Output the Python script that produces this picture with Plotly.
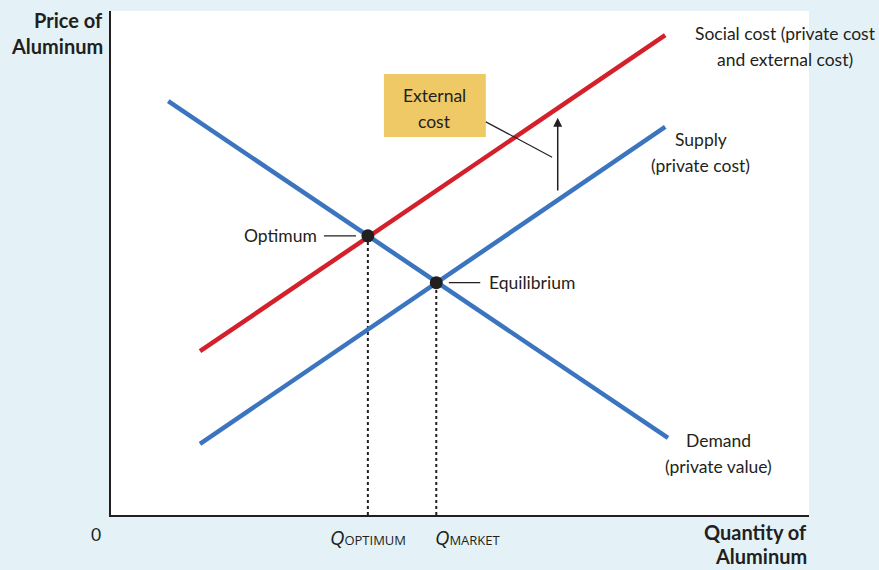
import plotly.graph_objects as go

# curve end points (quantity, price) on a 0-100 scale
demand_q = [8.2, 79.8]
demand_p = [82.1, 15.3]
supply_q = [12.75, 79.4]
supply_p = [14.1, 77.0]
social_q = [12.75, 79.4]
social_p = [32.5, 95.2]

# optimum and equilibrium points
points_q = [36.8, 46.6]
points_p = [55.4, 46.1]

BLUE = '#3b74bf'
RED = '#d3202b'
INK = '#231f20'
FONT = 'Lato'
LINE_GAP = 26


def label(fig, x, y, lines, size=17.5, bold=False, xanchor='center', gap=LINE_GAP, **kw):
    # one annotation per line, to get the wide line spacing of the original
    for i, t in enumerate(lines):
        if bold:
            t = '<b>' + t + '</b>'
        fig.add_annotation(x=x, y=y, text=t, showarrow=False, xanchor=xanchor,
                           yanchor='middle', yshift=-i * gap,
                           font=dict(size=size, color=INK, family=FONT), **kw)


fig = go.Figure()

# dotted drop lines
for q, p in zip(points_q, points_p):
    fig.add_trace(go.Scatter(x=[q, q], y=[0, p], mode='lines',
                             line=dict(color=INK, width=2, dash='dot'),
                             hoverinfo='skip', showlegend=False))

fig.add_trace(go.Scatter(x=demand_q, y=demand_p, mode='lines',
                         line=dict(color=BLUE, width=4.5), showlegend=False))
fig.add_trace(go.Scatter(x=supply_q, y=supply_p, mode='lines',
                         line=dict(color=BLUE, width=4.5), showlegend=False))
fig.add_trace(go.Scatter(x=social_q, y=social_p, mode='lines',
                         line=dict(color=RED, width=4.5), showlegend=False))
fig.add_trace(go.Scatter(x=points_q, y=points_p, mode='markers',
                         marker=dict(color=INK, size=13), showlegend=False))

# external cost box and leader
fig.add_shape(type='rect', x0=39.1, x1=53.7, y0=75.0, y1=87.5,
              fillcolor='#eec965', line=dict(width=0), layer='below')
fig.add_shape(type='line', x0=53.7, y0=78.0, x1=63.2, y1=71.0,
              line=dict(color=INK, width=1.2))
label(fig, 46.4, 83.3, ['External', 'cost'])

# arrow between supply and social cost
fig.add_annotation(x=64.0, y=78.8, ax=64.0, ay=64.1, axref='x', ayref='y',
                   text='', showarrow=True, arrowhead=2, arrowsize=1.2,
                   arrowwidth=1.5, arrowcolor=INK)

# point labels with leaders
fig.add_shape(type='line', x0=30.5, x1=35.1, y0=points_p[0], y1=points_p[0],
              line=dict(color=INK, width=1.2))
label(fig, 29.8, points_p[0], ['Optimum'], xanchor='right')
fig.add_shape(type='line', x0=48.4, x1=52.9, y0=points_p[1], y1=points_p[1],
              line=dict(color=INK, width=1.2))
label(fig, 53.8, points_p[1], ['Equilibrium'], xanchor='left')

# curve labels
label(fig, 96.6, 95.6, ['Social cost (private cost', 'and external cost)'])
label(fig, 84.5, 74.6, ['Supply', '(private cost)'])
label(fig, 87.0, 14.7, ['Demand', '(private value)'])

# axis labels
label(fig, -0.008, 0.982, ['Price of', 'Aluminum'], size=20, bold=True,
      xanchor='right', xref='paper', yref='paper')
label(fig, 1.0, -0.0337, ['Quantity of', 'Aluminum'], size=20, bold=True,
      xanchor='right', xref='paper', yref='paper', gap=24)
label(fig, -0.021, -0.0377, ['0'], xref='paper', yref='paper')
fig.add_annotation(x=points_q[0], yref='paper', y=-0.045, yanchor='middle',
                   text='<i>Q</i><span style="font-size:13px">OPTIMUM</span>',
                   showarrow=False, font=dict(size=20, color=INK, family='Open Sans'))
fig.add_annotation(x=points_q[1], yref='paper', y=-0.045, yanchor='middle',
                   xanchor='left', xshift=-3,
                   text='<i>Q</i><span style="font-size:13px">MARKET</span>',
                   showarrow=False, font=dict(size=20, color=INK, family='Open Sans'))

fig.update_xaxes(range=[0, 100], showgrid=False, zeroline=False, showticklabels=False,
                 showline=True, linecolor=INK, linewidth=1.5, ticks='', fixedrange=True)
fig.update_yaxes(range=[0, 100], showgrid=False, zeroline=False, showticklabels=False,
                 showline=True, linecolor=INK, linewidth=1.5, ticks='', fixedrange=True)

fig.update_layout(width=879, height=570, margin=dict(l=111, r=70, t=11, b=55),
                  paper_bgcolor='#e4f2f7', plot_bgcolor='white',
                  font=dict(family=FONT, color=INK))

fig.write_html("out.html", config={'displayModeBar': False},
               post_script="document.body.style.margin='0';")
